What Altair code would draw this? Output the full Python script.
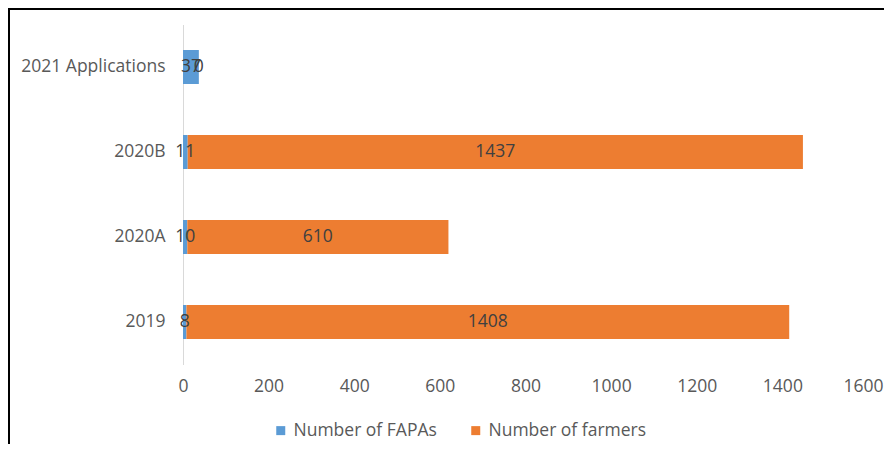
import altair as alt
import pandas as pd

categories = ["2021 Applications", "2020B", "2020A", "2019"]
series = ["Number of FAPAs", "Number of farmers"]
fapas = [37, 11, 10, 8]
farmers = [0, 1437, 610, 1408]
colors = ["#5B9BD5", "#ED7D31"]
x_ticks = [0, 200, 400, 600, 800, 1000, 1200, 1400, 1600]

rows = []
for c, f, m in zip(categories, fapas, farmers):
    rows.append({"category": c, "series": series[0], "value": f, "order": 0})
    rows.append({"category": c, "series": series[1], "value": m, "order": 1})
df = pd.DataFrame(rows)

FONT = "Open Sans"
GRAY = "#595959"
FS = 17.5

base = alt.Chart(df).transform_stack(
    stack="value", groupby=["category"], as_=["x0", "x1"],
    sort=[alt.SortField("order", order="ascending")]
).transform_calculate(mid="(datum.x0 + datum.x1) / 2")

yenc = alt.Y("category:N", sort=categories, title=None,
             scale=alt.Scale(paddingInner=0, paddingOuter=0),
             axis=alt.Axis(domain=True, domainColor="#d9d9d9", domainWidth=1,
                           ticks=False, labelPadding=18, labelFontSize=FS,
                           labelColor=GRAY, labelFont=FONT))

bars = base.mark_bar(size=34).encode(
    y=yenc,
    x=alt.X("x0:Q", title=None, scale=alt.Scale(domain=[0, 1600], nice=False),
            axis=alt.Axis(values=x_ticks, grid=False, domain=False, ticks=False,
                          format="d", labelPadding=13, labelFontSize=FS,
                          labelFlush=False,
                          labelOffset={"condition": {"test": "datum.value == 1600", "value": -5},
                                       "value": 0},
                          labelColor=GRAY, labelFont=FONT)),
    x2="x1:Q",
    color=alt.Color("series:N", scale=alt.Scale(domain=series, range=colors),
                    legend=alt.Legend(title=None, orient="none", direction="horizontal",
                                      legendX=89, legendY=397, symbolType="square",
                                      symbolSize=81, symbolStrokeWidth=0,
                                      labelFontSize=FS, labelColor=GRAY, labelFont=FONT,
                                      labelLimit=400, columnPadding=30, labelOffset=4)),
)

text = base.mark_text(fontSize=FS, color="#404040", font=FONT).encode(
    y=alt.Y("category:N", sort=categories),
    x=alt.X("mid:Q"),
    text=alt.Text("value:Q"),
)

frame_df = pd.DataFrame({"k": [0]})
top_line = alt.Chart(frame_df).mark_rule(color="black", strokeWidth=2).encode(
    x=alt.value(-175), x2=alt.value(701), y=alt.value(-15.5))
left_line = alt.Chart(frame_df).mark_rule(color="black", strokeWidth=2).encode(
    x=alt.value(-174), y=alt.value(-16.5), y2=alt.value(420))

chart = alt.layer(bars, text, top_line, left_line).properties(
    width=685, height=340,
    background="white",
    autosize=alt.AutoSizeParams(type="none"),
    padding={"left": 175, "top": 16.5, "right": 16, "bottom": 79.5},
).configure_view(strokeWidth=0)

chart.save("out.html", embed_options={"renderer": "svg", "actions": False})
